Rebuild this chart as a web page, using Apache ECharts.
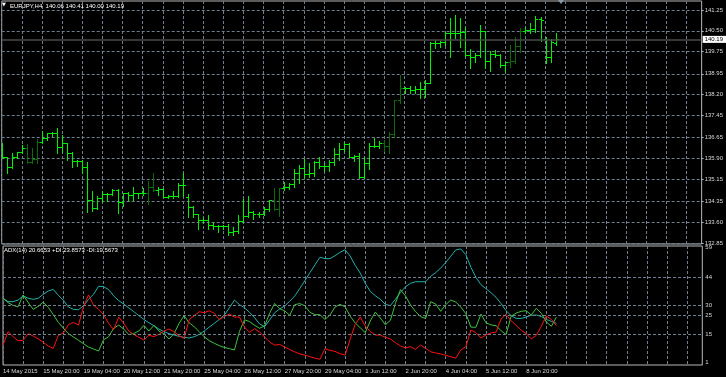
<!DOCTYPE html>
<html><head><meta charset="utf-8">
<script src="https://cdn.jsdelivr.net/npm/echarts@6/dist/echarts.min.js"></script>
<style>html,body{margin:0;padding:0;background:#000}#c{width:726px;height:377px}</style>
</head><body><div id="c"></div>
<script>
const symbolName = 'EURJPY,H4';
const xTickLabels = ['14 May 2015','15 May 20:00','19 May 04:00','20 May 12:00','21 May 20:00','25 May 04:00','26 May 12:00','27 May 20:00','29 May 04:00','1 Jun 12:00','2 Jun 20:00','4 Jun 04:00','5 Jun 12:00','8 Jun 20:00'];
const priceTickLabels = ['132.85','133.60','134.35','135.15','135.90','136.65','137.45','138.20','138.95','139.75','140.50','141.25'];
const adxTickLabels = [59,44,30,25,15,1];
const adxLevels = [44,30,25,15];

const open = [136.20,135.94,135.58,135.96,136.12,136.26,135.78,135.87,136.50,136.62,
136.81,136.83,136.30,136.44,136.08,135.82,135.82,135.60,134.40,134.10,
134.46,134.61,134.61,134.76,134.34,134.64,134.58,134.64,134.64,134.66,
134.86,134.76,134.79,134.52,134.54,134.54,134.94,134.50,134.14,133.88,
133.68,133.68,133.50,133.46,133.46,133.46,133.26,133.28,133.65,133.82,
133.97,133.88,133.88,134.07,134.40,134.07,134.82,134.86,134.97,135.36,
135.54,135.34,135.39,135.77,135.63,135.63,135.78,136.06,136.23,136.42,
135.94,135.99,135.24,135.75,136.35,136.35,136.44,136.35,136.77,138.01,
138.44,138.44,138.37,138.40,138.40,138.62,140.06,140.06,140.10,140.42,
140.42,140.42,140.46,139.63,139.56,139.63,140.49,139.41,139.66,139.63,
139.27,139.38,139.41,139.95,140.49,140.53,140.57,140.93,140.20,139.56,
140.06];
const high = [136.44,135.94,136.08,136.14,136.38,136.41,136.26,136.59,136.90,136.83,
136.85,137.00,136.73,136.46,136.14,135.84,135.84,135.78,134.74,134.54,
134.74,134.64,134.79,134.79,134.66,134.70,134.86,134.66,134.82,135.09,
135.36,134.86,134.82,134.58,134.74,135.00,135.39,134.62,134.18,133.88,
133.78,133.86,133.62,133.50,133.50,133.54,133.44,133.86,134.43,134.54,
134.00,133.98,134.16,134.40,134.82,134.82,135.06,135.02,135.51,135.66,
135.87,135.72,135.81,135.94,135.72,135.84,136.26,136.47,136.50,136.45,
136.02,136.08,135.94,136.44,136.65,136.54,136.56,136.86,138.01,138.91,
138.46,138.51,138.51,138.65,138.73,140.10,140.17,140.13,140.46,140.96,
141.07,140.96,140.64,139.84,139.70,140.71,140.51,139.77,139.81,139.66,
139.38,139.99,140.28,140.60,140.64,140.78,141.03,141.00,140.28,140.20,
140.41];
const low = [135.90,135.36,135.54,135.90,136.08,135.72,135.72,135.75,136.47,136.56,
136.71,136.08,136.14,135.84,135.60,135.63,135.38,133.98,134.00,134.08,
134.34,134.38,134.58,133.94,134.18,134.36,134.40,134.46,134.58,134.26,
134.74,134.58,134.52,134.46,134.48,134.52,134.54,133.78,133.78,133.34,
133.58,133.34,133.34,133.26,133.34,133.14,133.13,133.20,133.62,133.80,
133.70,133.80,133.86,134.01,134.04,133.82,134.76,134.79,134.88,135.02,
135.18,135.24,135.27,135.54,135.45,135.46,135.66,135.84,136.18,135.94,
135.82,135.18,135.18,135.52,136.30,136.29,136.18,136.11,136.67,137.90,
138.26,138.26,138.26,138.08,138.11,138.60,139.88,139.92,139.99,139.56,
140.24,139.92,139.59,139.16,139.38,139.56,139.16,139.05,139.56,139.20,
139.01,139.20,139.34,139.74,140.42,140.42,140.46,140.13,139.34,139.38,
140.00];
const close = [135.94,135.58,135.96,136.12,136.26,135.78,135.87,136.50,136.62,136.81,
136.83,136.30,136.44,136.08,135.82,135.82,135.60,134.40,134.10,134.46,
134.61,134.61,134.76,134.34,134.64,134.58,134.64,134.64,134.66,134.86,
134.76,134.79,134.52,134.54,134.54,134.94,134.94,134.14,133.88,133.68,
133.68,133.50,133.46,133.46,133.46,133.26,133.28,133.65,133.82,133.97,
133.88,133.88,134.07,134.40,134.07,134.82,134.86,134.97,135.36,135.54,
135.34,135.39,135.77,135.63,135.63,135.78,136.06,136.23,136.42,135.94,
135.99,135.24,135.75,136.35,136.35,136.44,136.35,136.77,138.01,138.44,
138.44,138.37,138.40,138.40,138.62,140.06,140.06,140.10,140.42,140.42,
140.42,140.46,139.63,139.56,139.63,140.49,139.41,139.66,139.63,139.27,
139.38,139.41,139.95,140.49,140.53,140.57,140.93,140.89,139.56,140.10,
140.19];
const dimBars = [5,6,7,29,30,54,55,76,77,78,79,101,102,103];

const adx = [33.5,31.7,31.7,32.5,34.6,33.4,32.9,33.4,35.4,37.1,
37.9,34.9,32.4,29.0,27.8,27.6,29.6,32.9,35.4,39.5,
39.3,37.8,34.6,32.2,30.5,28.5,26.6,24.6,22.7,21.0,
19.5,17.8,16.5,15.5,14.8,14.1,13.6,13.3,13.9,15.1,
16.8,18.8,20.7,22.7,24.9,28.6,32.5,30.2,28.6,26.3,
23.6,20.4,19.0,22.4,26.1,28.0,29.5,31.9,34.6,38.4,
42.3,46.4,50.3,54.2,53.5,53.5,55.0,56.7,58.0,54.8,
50.1,46.2,41.0,36.9,34.7,32.9,30.3,29.7,32.9,36.4,
39.2,41.0,41.8,41.8,41.8,44.5,46.4,48.7,51.5,54.7,
57.9,58.4,55.5,49.1,44.0,40.3,38.3,36.2,33.9,30.7,
27.1,24.6,23.2,23.2,23.9,24.8,24.9,24.2,22.7,21.7,
20.6653];
const plusDI = [33.5,31.2,29.8,29.1,35.1,31.3,27.8,29.3,31.5,28.8,
25.1,21.2,18.3,15.5,13.8,12.1,10.4,8.7,7.7,6.7,
12.4,13.9,18.2,19.8,17.8,15.0,15.6,16.8,19.7,16.8,
19.7,16.8,15.3,12.8,15.5,20.7,24.6,21.0,19.0,16.5,
13.9,11.9,10.6,9.4,8.5,7.9,7.2,16.6,22.5,21.6,
19.7,18.2,19.4,25.8,30.8,28.1,27.0,24.8,30.2,30.7,
29.6,26.3,25.1,25.1,22.7,24.9,29.0,30.3,29.1,24.4,
20.9,18.5,16.0,21.9,26.4,23.4,20.0,22.2,30.8,37.8,
34.6,30.0,26.6,24.1,23.2,31.7,30.5,26.8,30.2,32.5,
31.5,29.0,25.6,18.8,18.7,25.4,21.0,19.9,19.5,17.0,
15.0,24.3,25.9,26.8,27.1,24.9,28.3,25.8,21.4,19.2,
23.8573];
const minusDI = [9.7,16.5,14.0,11.9,12.1,15.5,14.3,12.8,11.1,9.2,
8.0,14.6,15.8,20.0,21.2,19.8,29.1,35.1,29.8,27.8,
25.1,20.7,17.5,23.9,20.7,16.8,15.1,13.6,12.3,14.6,
14.0,15.1,16.8,17.8,16.5,14.4,13.1,22.6,24.5,26.6,
26.1,27.1,25.8,22.6,24.1,25.4,23.9,23.9,18.8,16.1,
18.0,16.3,13.8,11.2,9.7,10.0,8.7,7.4,6.2,5.2,
4.6,3.8,3.1,2.5,7.9,7.0,6.5,5.3,4.6,12.6,
20.2,23.9,19.4,16.5,14.8,14.8,13.6,12.8,10.9,9.3,
8.2,8.9,7.5,9.7,8.0,6.3,5.7,5.2,4.5,3.8,
3.1,7.2,8.9,17.3,16.0,13.3,14.8,15.8,16.3,22.9,
25.3,22.0,19.7,17.2,15.5,12.8,14.6,19.2,24.4,22.7,
19.5673];

const SLOTS = 140;
const cats = Array.from({length: SLOTS}, (_, i) => String(i));
const last = close.length - 1;
const FONT = 'Liberation Sans';
const TXT = '#d8d8d8';
const GRIDC = '#6f7f8f';
const BORDER = '#b8b8b8';
const dash = [3, 2];
const priceTicks = priceTickLabels.map(Number);

const barData = open.map((o, i) => [i, o, high[i], low[i], close[i], dimBars.includes(i) ? 1 : 0]);

const chart = echarts.init(document.getElementById('c'), null, {renderer: 'canvas'});
const gridL = 1.7, gridR = 23.7;
chart.setOption({
  backgroundColor: '#000',
  animation: false,
  title: [
    {text: '\u25BC', left: 2, top: 2.5, padding: 0, textStyle: {color: '#fff', fontSize: 5, fontFamily: 'DejaVu Sans', fontWeight: 'normal'}},
    {text: `${symbolName}  ${open[last].toFixed(2)} ${high[last].toFixed(2)} ${low[last].toFixed(2)} ${close[last].toFixed(2)}`,
     left: 10, top: 3, padding: 0, textStyle: {color: '#fff', fontSize: 6, fontFamily: FONT, fontWeight: 'normal'}},
    {text: `ADX(14) ${adx[last].toFixed(4)} +DI:${plusDI[last].toFixed(4)} -DI:${minusDI[last].toFixed(4)}`,
     left: 4, top: 247.5, padding: 0, textStyle: {color: '#fff', fontSize: 6, fontFamily: FONT, fontWeight: 'normal'}}
  ],
  graphic: [
    {type: 'polygon', shape: {points: [[558, 0], [564, 0], [561, 4]]}, style: {fill: '#8898a8'}}
  ],
  grid: [
    {left: gridL, right: gridR, top: 1, height: 243, show: true, borderColor: BORDER, borderWidth: 1, backgroundColor: 'transparent'},
    {left: gridL, right: gridR, top: 246, height: 119, show: true, borderColor: BORDER, borderWidth: 1, backgroundColor: 'transparent'}
  ],
  xAxis: [
    {type: 'category', gridIndex: 0, data: cats, boundaryGap: false,
     axisLine: {show: false}, axisTick: {show: false}, axisLabel: {show: false},
     splitLine: {show: true, interval: 3, lineStyle: {color: GRIDC, type: dash, width: 1}}},
    {type: 'category', gridIndex: 1, data: cats, boundaryGap: false,
     axisLine: {show: false}, axisTick: {show: false},
     axisLabel: {show: true, interval: 7, align: 'left', margin: 3, color: TXT, fontSize: 6, fontFamily: FONT,
       formatter: (v, idx) => (idx % 8 === 0 && xTickLabels[idx / 8]) ? xTickLabels[idx / 8] : ''},
     splitLine: {show: true, interval: 3, lineStyle: {color: GRIDC, type: dash, width: 1}}}
  ],
  yAxis: [
    {type: 'value', gridIndex: 0, position: 'right', min: 132.814, max: 141.574,
     axisLine: {show: false},
     axisTick: {show: true, length: 2, customValues: priceTicks, lineStyle: {color: BORDER}},
     axisLabel: {show: true, margin: 3, color: TXT, fontSize: 6, fontFamily: FONT, customValues: priceTicks,
       formatter: (v) => Number(v).toFixed(2)},
     splitLine: {show: true, lineStyle: {color: GRIDC, type: dash, width: 1}}},
    {type: 'value', gridIndex: 1, position: 'right', min: -0.41, max: 59.9,
     axisLine: {show: false}, axisTick: {show: false, customValues: adxLevels},
     axisLabel: {show: true, margin: 3, color: TXT, fontSize: 6, fontFamily: FONT, customValues: adxTickLabels,
       formatter: (v) => String(Math.round(Number(v)))},
     splitLine: {show: false}}
  ],
  series: [
    {type: 'custom', xAxisIndex: 0, yAxisIndex: 0, data: barData, clip: true,
     encode: {x: 0, y: [1, 2, 3, 4]},
     renderItem: (params, api) => {
       const i = api.value(0);
       const o = api.coord([i, api.value(1)]);
       const h = api.coord([i, api.value(2)]);
       const l = api.coord([i, api.value(3)]);
       const c = api.coord([i, api.value(4)]);
       const col = api.value(5) ? '#0b6b0b' : '#00f000';
       const x = Math.round(o[0]) + 0.5;
       const sy = (y) => Math.round(y) + 0.5;
       return {type: 'group', children: [
         {type: 'line', shape: {x1: x, y1: Math.round(h[1]), x2: x, y2: Math.round(l[1]) + 1}, style: {stroke: col, lineWidth: 1}},
         {type: 'line', shape: {x1: x - 2.5, y1: sy(o[1]), x2: x, y2: sy(o[1])}, style: {stroke: col, lineWidth: 1}},
         {type: 'line', shape: {x1: x, y1: sy(c[1]), x2: x + 2.5, y2: sy(c[1])}, style: {stroke: col, lineWidth: 1}}
       ]};
     }},
    {type: 'line', xAxisIndex: 0, yAxisIndex: 0, data: [], symbol: 'none',
     markLine: {silent: true, symbol: ['none', 'none'], animation: false,
       lineStyle: {color: '#4a4a4a', width: 1.5, type: 'solid'},
       label: {show: true, position: 'end', distance: 1, formatter: close[last].toFixed(2),
         backgroundColor: '#ffffff', color: '#000', fontSize: 6, fontFamily: FONT, padding: [1, 3, 0, 2]},
       data: [{yAxis: close[last]}]}},
    {name: 'ADX', type: 'line', xAxisIndex: 1, yAxisIndex: 1, data: adx, symbol: 'none',
     lineStyle: {color: '#22b0ae', width: 1},
     markLine: {silent: true, symbol: ['none', 'none'], animation: false, label: {show: false},
       lineStyle: {color: GRIDC, type: dash, width: 1},
       data: adxLevels.map(v => ({yAxis: v}))}},
    {name: '+DI', type: 'line', xAxisIndex: 1, yAxisIndex: 1, data: plusDI, symbol: 'none',
     lineStyle: {color: '#3cc43c', width: 1}},
    {name: '-DI', type: 'line', xAxisIndex: 1, yAxisIndex: 1, data: minusDI, symbol: 'none',
     lineStyle: {color: '#ff1010', width: 1}}
  ]
});
</script></body></html>
